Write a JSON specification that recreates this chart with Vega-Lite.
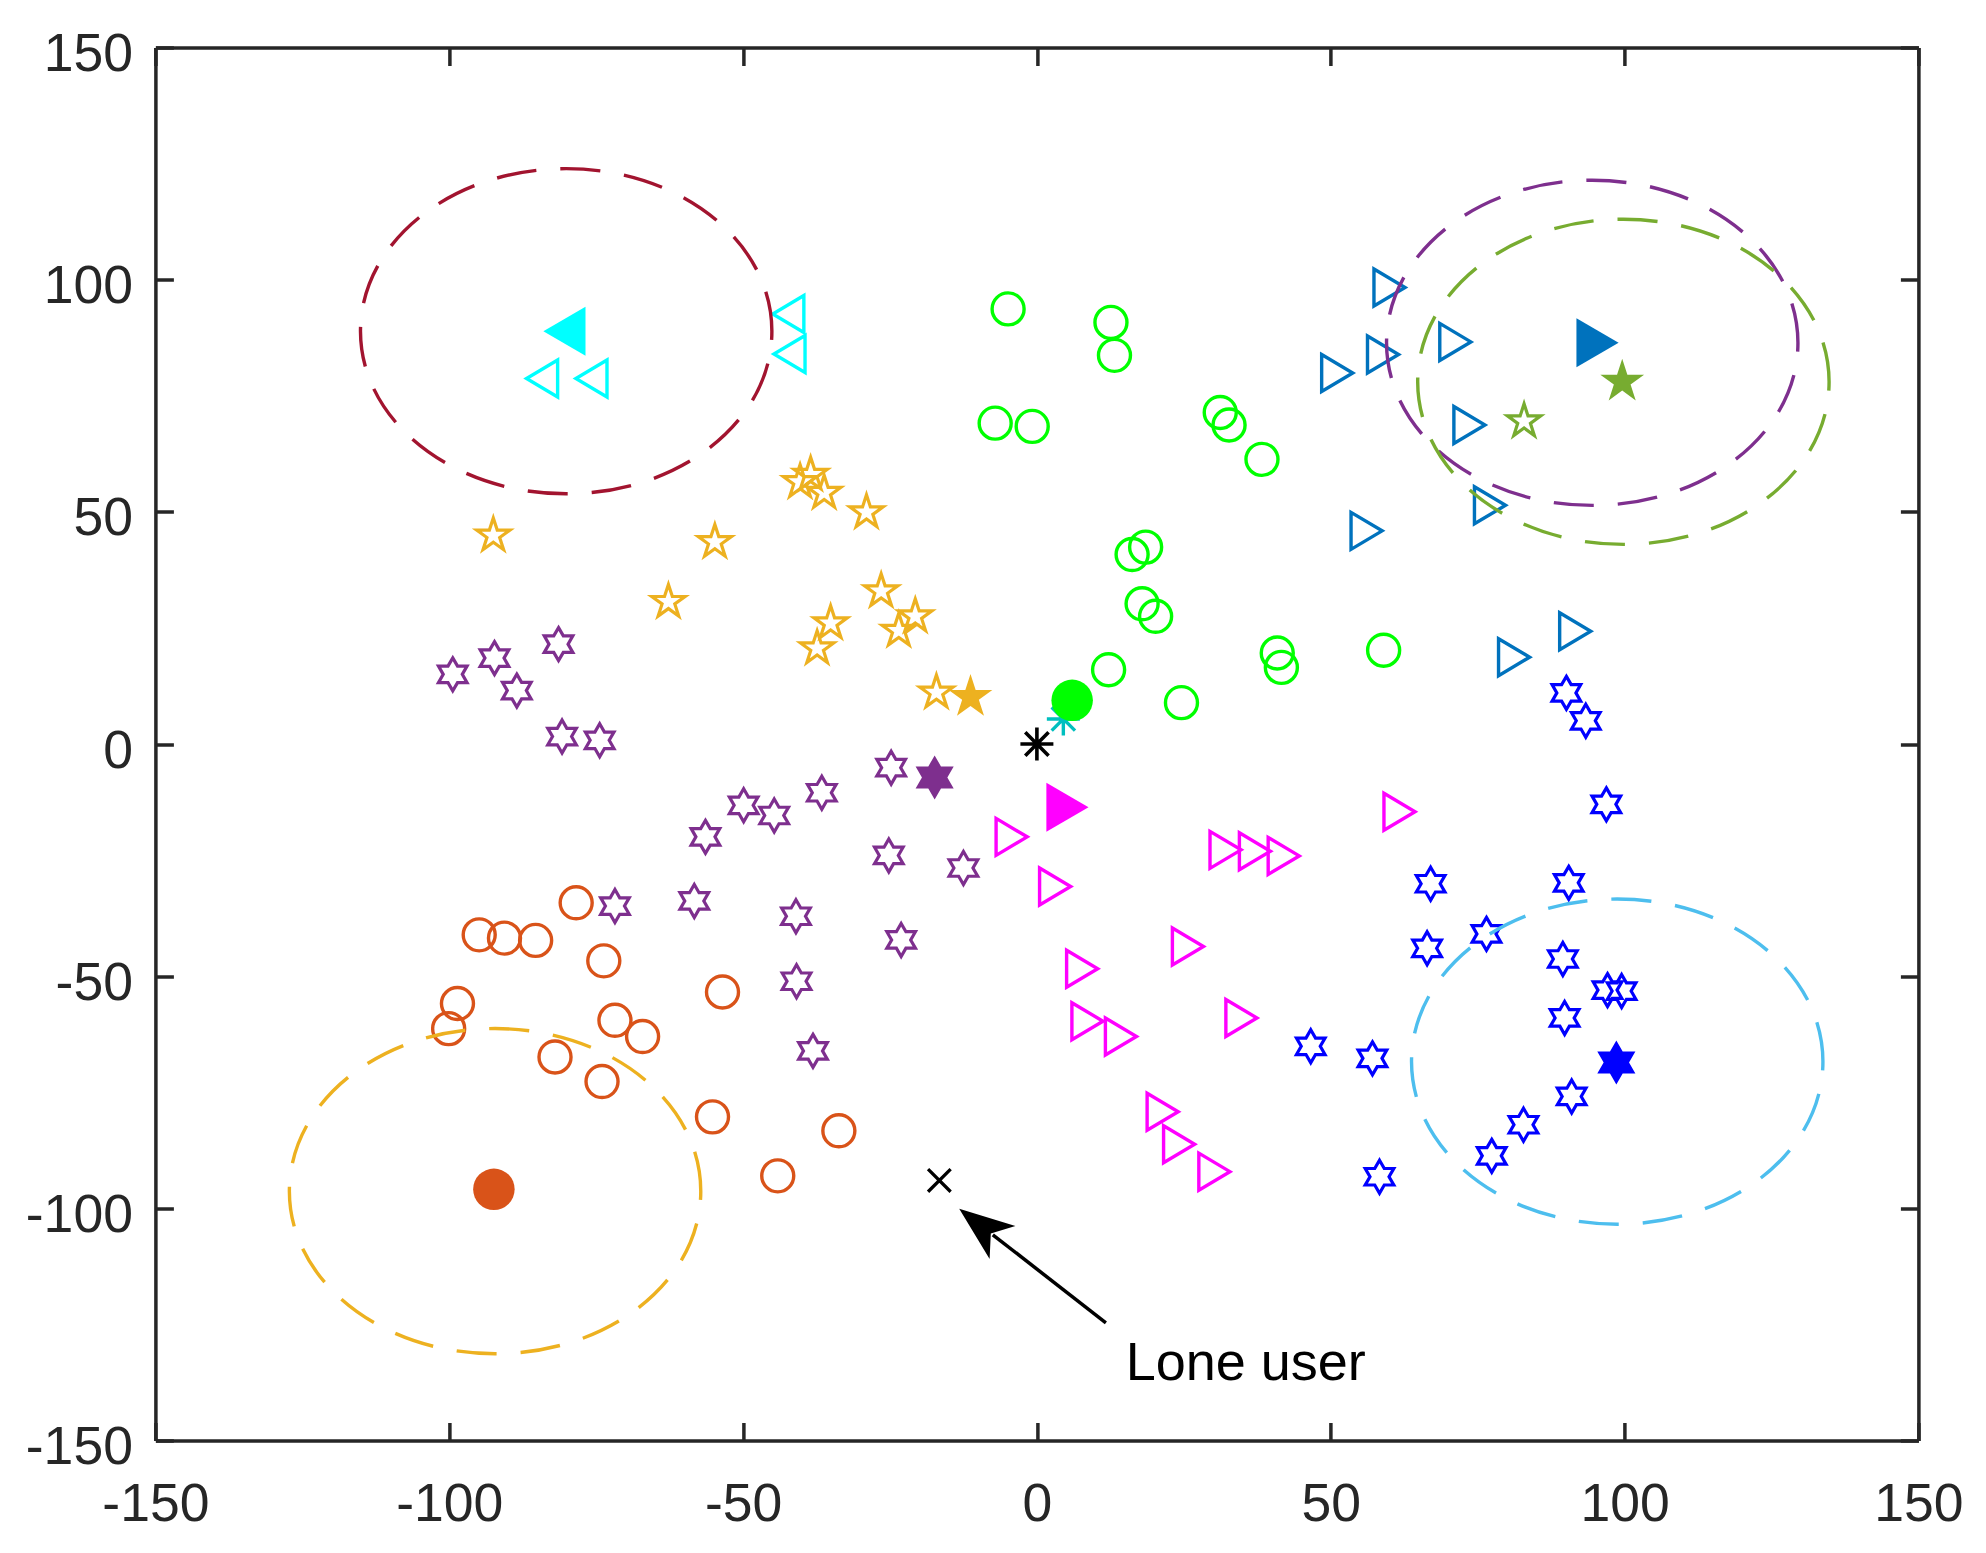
{
  "$schema": "https://vega.github.io/schema/vega-lite/v6.json",
  "width": 1763,
  "height": 1393,
  "autosize": {"type": "none"},
  "padding": {"left": 155.4, "top": 47.5, "right": 67.6, "bottom": 112.5},
  "background": "white",
  "config": {
    "view": {"stroke": null},
    "axis": {
      "domainColor": "#262626", "domainWidth": 3.5,
      "tickColor": "#262626", "tickWidth": 3.5, "tickSize": -18,
      "labelColor": "#262626", "labelFont": "Liberation Sans", "labelFontSize": 53.5,
      "grid": false, "title": null, "labelFlush": false, "labelOverlap": false
    }
  },
  "datasets": {
    "users": [
      {"x": -84.2, "y": 78.7, "c": "c1", "m": "tl"},
      {"x": -75.8, "y": 78.7, "c": "c1", "m": "tl"},
      {"x": -42.3, "y": 92.6, "c": "c1", "m": "tl"},
      {"x": -42.1, "y": 84.0, "c": "c1", "m": "tl"},
      {"x": -4.9, "y": 93.7, "c": "c2", "m": "o"},
      {"x": 12.6, "y": 90.8, "c": "c2", "m": "o"},
      {"x": 13.2, "y": 83.7, "c": "c2", "m": "o"},
      {"x": -7.1, "y": 69.1, "c": "c2", "m": "o"},
      {"x": -0.8, "y": 68.4, "c": "c2", "m": "o"},
      {"x": 31.2, "y": 71.4, "c": "c2", "m": "o"},
      {"x": 32.7, "y": 68.7, "c": "c2", "m": "o"},
      {"x": 38.3, "y": 61.3, "c": "c2", "m": "o"},
      {"x": 16.2, "y": 40.8, "c": "c2", "m": "o"},
      {"x": 18.5, "y": 42.4, "c": "c2", "m": "o"},
      {"x": 17.9, "y": 30.2, "c": "c2", "m": "o"},
      {"x": 20.2, "y": 27.5, "c": "c2", "m": "o"},
      {"x": 12.2, "y": 16.0, "c": "c2", "m": "o"},
      {"x": 24.6, "y": 8.9, "c": "c2", "m": "o"},
      {"x": 40.9, "y": 19.6, "c": "c2", "m": "o"},
      {"x": 41.6, "y": 16.5, "c": "c2", "m": "o"},
      {"x": 59.0, "y": 20.2, "c": "c2", "m": "o"},
      {"x": -92.5, "y": 44.9, "c": "c3", "m": "p5"},
      {"x": -54.8, "y": 43.5, "c": "c3", "m": "p5"},
      {"x": -62.7, "y": 30.6, "c": "c3", "m": "p5"},
      {"x": -40.3, "y": 56.4, "c": "c3", "m": "p5"},
      {"x": -38.5, "y": 58.0, "c": "c3", "m": "p5"},
      {"x": -36.2, "y": 54.1, "c": "c3", "m": "p5"},
      {"x": -29.0, "y": 49.9, "c": "c3", "m": "p5"},
      {"x": -26.5, "y": 32.9, "c": "c3", "m": "p5"},
      {"x": -35.1, "y": 26.0, "c": "c3", "m": "p5"},
      {"x": -37.4, "y": 20.6, "c": "c3", "m": "p5"},
      {"x": -20.7, "y": 27.5, "c": "c3", "m": "p5"},
      {"x": -23.5, "y": 24.4, "c": "c3", "m": "p5"},
      {"x": -17.1, "y": 11.1, "c": "c3", "m": "p5"},
      {"x": -99.4, "y": 15.0, "c": "c4", "m": "p6"},
      {"x": -92.3, "y": 18.5, "c": "c4", "m": "p6"},
      {"x": -88.5, "y": 11.5, "c": "c4", "m": "p6"},
      {"x": -81.4, "y": 21.5, "c": "c4", "m": "p6"},
      {"x": -80.8, "y": 1.6, "c": "c4", "m": "p6"},
      {"x": -74.4, "y": 0.8, "c": "c4", "m": "p6"},
      {"x": -71.8, "y": -34.9, "c": "c4", "m": "p6"},
      {"x": -24.8, "y": -5.1, "c": "c4", "m": "p6"},
      {"x": -36.6, "y": -10.5, "c": "c4", "m": "p6"},
      {"x": -49.9, "y": -13.2, "c": "c4", "m": "p6"},
      {"x": -44.7, "y": -15.4, "c": "c4", "m": "p6"},
      {"x": -56.4, "y": -20.0, "c": "c4", "m": "p6"},
      {"x": -25.2, "y": -24.0, "c": "c4", "m": "p6"},
      {"x": -12.5, "y": -26.7, "c": "c4", "m": "p6"},
      {"x": -58.3, "y": -33.8, "c": "c4", "m": "p6"},
      {"x": -41.0, "y": -37.1, "c": "c4", "m": "p6"},
      {"x": -23.1, "y": -42.2, "c": "c4", "m": "p6"},
      {"x": -40.9, "y": -51.1, "c": "c4", "m": "p6"},
      {"x": -38.1, "y": -66.1, "c": "c4", "m": "p6"},
      {"x": -78.4, "y": -34.2, "c": "c5", "m": "o"},
      {"x": -94.9, "y": -41.1, "c": "c5", "m": "o"},
      {"x": -90.6, "y": -41.8, "c": "c5", "m": "o"},
      {"x": -85.3, "y": -42.3, "c": "c5", "m": "o"},
      {"x": -73.7, "y": -46.7, "c": "c5", "m": "o"},
      {"x": -98.6, "y": -55.9, "c": "c5", "m": "o"},
      {"x": -100.1, "y": -61.3, "c": "c5", "m": "o"},
      {"x": -71.8, "y": -59.5, "c": "c5", "m": "o"},
      {"x": -67.1, "y": -63.0, "c": "c5", "m": "o"},
      {"x": -82.0, "y": -67.4, "c": "c5", "m": "o"},
      {"x": -74.0, "y": -72.7, "c": "c5", "m": "o"},
      {"x": -53.5, "y": -53.4, "c": "c5", "m": "o"},
      {"x": -55.2, "y": -80.3, "c": "c5", "m": "o"},
      {"x": -33.7, "y": -83.3, "c": "c5", "m": "o"},
      {"x": -44.1, "y": -93.0, "c": "c5", "m": "o"},
      {"x": -4.3, "y": -20.0, "c": "c6", "m": "tr"},
      {"x": 3.1, "y": -30.7, "c": "c6", "m": "tr"},
      {"x": 32.1, "y": -22.8, "c": "c6", "m": "tr"},
      {"x": 37.1, "y": -23.1, "c": "c6", "m": "tr"},
      {"x": 42.0, "y": -24.1, "c": "c6", "m": "tr"},
      {"x": 7.7, "y": -48.4, "c": "c6", "m": "tr"},
      {"x": 25.7, "y": -43.6, "c": "c6", "m": "tr"},
      {"x": 8.6, "y": -59.7, "c": "c6", "m": "tr"},
      {"x": 14.3, "y": -63.0, "c": "c6", "m": "tr"},
      {"x": 34.8, "y": -59.0, "c": "c6", "m": "tr"},
      {"x": 21.4, "y": -79.2, "c": "c6", "m": "tr"},
      {"x": 24.2, "y": -86.2, "c": "c6", "m": "tr"},
      {"x": 30.2, "y": -92.1, "c": "c6", "m": "tr"},
      {"x": 61.7, "y": -14.6, "c": "c6", "m": "tr"},
      {"x": 60.0, "y": 98.3, "c": "c7", "m": "tr"},
      {"x": 71.2, "y": 86.6, "c": "c7", "m": "tr"},
      {"x": 58.9, "y": 83.9, "c": "c7", "m": "tr"},
      {"x": 51.1, "y": 79.9, "c": "c7", "m": "tr"},
      {"x": 73.6, "y": 68.7, "c": "c7", "m": "tr"},
      {"x": 77.1, "y": 51.4, "c": "c7", "m": "tr"},
      {"x": 56.1, "y": 45.9, "c": "c7", "m": "tr"},
      {"x": 91.6, "y": 24.3, "c": "c7", "m": "tr"},
      {"x": 81.2, "y": 18.7, "c": "c7", "m": "tr"},
      {"x": 82.9, "y": 69.5, "c": "c8", "m": "p5"},
      {"x": 90.1, "y": 11.0, "c": "c9", "m": "p6"},
      {"x": 93.4, "y": 5.0, "c": "c9", "m": "p6"},
      {"x": 96.9, "y": -13.0, "c": "c9", "m": "p6"},
      {"x": 67.0, "y": -30.1, "c": "c9", "m": "p6"},
      {"x": 90.5, "y": -29.9, "c": "c9", "m": "p6"},
      {"x": 76.5, "y": -40.9, "c": "c9", "m": "p6"},
      {"x": 66.4, "y": -44.0, "c": "c9", "m": "p6"},
      {"x": 89.5, "y": -46.3, "c": "c9", "m": "p6"},
      {"x": 97.1, "y": -53.0, "c": "c9", "m": "p6"},
      {"x": 99.5, "y": -53.2, "c": "c9", "m": "p6"},
      {"x": 89.8, "y": -59.0, "c": "c9", "m": "p6"},
      {"x": 46.6, "y": -65.1, "c": "c9", "m": "p6"},
      {"x": 57.1, "y": -67.7, "c": "c9", "m": "p6"},
      {"x": 91.0, "y": -75.9, "c": "c9", "m": "p6"},
      {"x": 82.8, "y": -82.0, "c": "c9", "m": "p6"},
      {"x": 77.4, "y": -88.7, "c": "c9", "m": "p6"},
      {"x": 58.3, "y": -93.2, "c": "c9", "m": "p6"}
    ],
    "heads": [
      {"x": -80.4, "y": 88.9, "c": "c1", "m": "tl"},
      {"x": 6.0, "y": 9.4, "c": "c2", "m": "o"},
      {"x": -11.3, "y": 10.1, "c": "c3", "m": "p5"},
      {"x": -17.4, "y": -7.2, "c": "c4", "m": "p6"},
      {"x": -92.4, "y": -95.9, "c": "c5", "m": "o"},
      {"x": 5.2, "y": -13.6, "c": "c6", "m": "tr"},
      {"x": 95.4, "y": 86.4, "c": "c7", "m": "tr"},
      {"x": 99.6, "y": 78.0, "c": "c8", "m": "p5"},
      {"x": 98.6, "y": -68.6, "c": "c9", "m": "p6"}
    ],
    "stations": [
      {"x": 4.5, "y": 5.4, "c": "t"},
      {"x": 0.0, "y": 0.0, "c": "k"}
    ],
    "lone": [
      {"x": -16.6, "y": -94.0, "c": "k"}
    ],
    "rings": [
      {"x": -80.1, "y": 88.9, "c": "r1"},
      {"x": 94.5, "y": 86.4, "c": "c4"},
      {"x": 99.8, "y": 78.0, "c": "c8"},
      {"x": -92.2, "y": -96.3, "c": "c3"},
      {"x": 98.75, "y": -68.4, "c": "r5"}
    ],
    "arrow": [
      {"x": 11.74, "y": -124.65, "x2": -7.5, "y2": -105.7, "tx": -13.22, "ty": -100.1}
    ],
    "label": [
      {"x": 15.1, "y": -136.9, "t": "Lone user"}
    ]
  },
  "layer": [
    {
      "data": {"name": "users"},
      "transform": [{"filter": "datum.m === 'o'"}],
      "mark": {"type": "point", "shape": "circle", "filled": false, "size": 1024, "strokeWidth": 3.4, "opacity": 1},
      "encoding": {
        "x": {"field": "x", "type": "quantitative", "scale": {"domain": [-150, 150], "nice": false, "zero": false},
          "axis": {"orient": "bottom", "values": [-150, -100, -50, 0, 50, 100, 150], "labelPadding": 56, "labelBaseline": "top",
            "labelExpr": "(datum.value < 0 ? '-' : '') + abs(datum.value)"}},
        "y": {"field": "y", "type": "quantitative", "scale": {"domain": [-150, 150], "nice": false, "zero": false},
          "axis": {"orient": "left", "values": [-150, -100, -50, 0, 50, 100, 150], "labelPadding": 41, "labelOffset": 7, "labelAlign": "right", "labelBaseline": "middle",
            "labelExpr": "(datum.value < 0 ? '-' : '') + abs(datum.value)"}},
        "color": {"field": "c", "type": "nominal", "legend": null,
          "scale": {"domain": ["c1","c2","c3","c4","c5","c6","c7","c8","c9","r1","r5","k","t"],
                    "range": ["#00FFFF","#00FF00","#EDB120","#7E2F8E","#D95319","#FF00FF","#0072BD","#77AC30","#0000FF","#A2142F","#4DBEEE","#000000","#00BFBF"]}}
      }
    },
    {
      "data": {"name": "users"},
      "transform": [{"filter": "datum.m === 'tr'"}],
      "mark": {"type": "point", "shape": "M -0.84,-1 L 0.84,0 L -0.84,1 Z", "filled": false, "size": 1369, "strokeWidth": 3.4, "opacity": 1},
      "encoding": {
        "x": {"field": "x", "type": "quantitative", "scale": {"domain": [-150, 150], "nice": false, "zero": false},
          "axis": {"orient": "top", "values": [-150, -100, -50, 0, 50, 100, 150], "labels": false}},
        "y": {"field": "y", "type": "quantitative", "scale": {"domain": [-150, 150], "nice": false, "zero": false},
          "axis": {"orient": "right", "values": [-150, -100, -50, 0, 50, 100, 150], "labels": false}},
        "color": {"field": "c", "type": "nominal", "legend": null}
      }
    },
    {
      "data": {"name": "users"},
      "transform": [{"filter": "datum.m === 'tl'"}],
      "mark": {"type": "point", "shape": "M 0.84,-1 L -0.84,0 L 0.84,1 Z", "filled": false, "size": 1369, "strokeWidth": 3.4, "opacity": 1},
      "encoding": {
        "x": {"field": "x", "type": "quantitative", "axis": null},
        "y": {"field": "y", "type": "quantitative", "axis": null},
        "color": {"field": "c", "type": "nominal", "legend": null}
      }
    },
    {
      "data": {"name": "users"},
      "transform": [{"filter": "datum.m === 'p5'"}],
      "mark": {"type": "point", "shape": "M 0,-1 L 0.2245,-0.309 L 0.9511,-0.309 L 0.3633,0.118 L 0.5878,0.809 L 0,0.382 L -0.5878,0.809 L -0.3633,0.118 L -0.9511,-0.309 L -0.2245,-0.309 Z", "filled": false, "size": 1225, "strokeWidth": 3.2, "opacity": 1},
      "encoding": {
        "x": {"field": "x", "type": "quantitative", "axis": null},
        "y": {"field": "y", "type": "quantitative", "axis": null},
        "color": {"field": "c", "type": "nominal", "legend": null}
      }
    },
    {
      "data": {"name": "users"},
      "transform": [{"filter": "datum.m === 'p6'"}],
      "mark": {"type": "point", "shape": "M 0,-1 L 0.2887,-0.5 L 0.866,-0.5 L 0.5774,0 L 0.866,0.5 L 0.2887,0.5 L 0,1 L -0.2887,0.5 L -0.866,0.5 L -0.5774,0 L -0.866,-0.5 L -0.2887,-0.5 Z", "filled": false, "size": 1089, "strokeWidth": 3.2, "opacity": 1},
      "encoding": {
        "x": {"field": "x", "type": "quantitative", "axis": null},
        "y": {"field": "y", "type": "quantitative", "axis": null},
        "color": {"field": "c", "type": "nominal", "legend": null}
      }
    },
    {
      "data": {"name": "stations"},
      "transform": [{"filter": "datum.c === 't'"}],
      "mark": {"type": "point", "shape": "M -1,0 L 1,0 M 0,-1 L 0,1 M -0.707,-0.707 L 0.707,0.707 M -0.707,0.707 L 0.707,-0.707", "filled": false, "size": 1089, "strokeWidth": 3.4, "opacity": 1},
      "encoding": {
        "x": {"field": "x", "type": "quantitative", "axis": null},
        "y": {"field": "y", "type": "quantitative", "axis": null},
        "color": {"field": "c", "type": "nominal", "legend": null}
      }
    },
    {
      "data": {"name": "heads"},
      "transform": [{"filter": "datum.m === 'o'"}],
      "mark": {"type": "point", "shape": "circle", "filled": true, "size": 1722, "strokeWidth": 0, "opacity": 1},
      "encoding": {
        "x": {"field": "x", "type": "quantitative", "axis": null},
        "y": {"field": "y", "type": "quantitative", "axis": null},
        "color": {"field": "c", "type": "nominal", "legend": null}
      }
    },
    {
      "data": {"name": "heads"},
      "transform": [{"filter": "datum.m === 'tr'"}],
      "mark": {"type": "point", "shape": "M -0.86,-1 L 0.86,0 L -0.86,1 Z", "filled": true, "size": 2401, "strokeWidth": 0, "opacity": 1},
      "encoding": {
        "x": {"field": "x", "type": "quantitative", "axis": null},
        "y": {"field": "y", "type": "quantitative", "axis": null},
        "color": {"field": "c", "type": "nominal", "legend": null}
      }
    },
    {
      "data": {"name": "heads"},
      "transform": [{"filter": "datum.m === 'tl'"}],
      "mark": {"type": "point", "shape": "M 0.86,-1 L -0.86,0 L 0.86,1 Z", "filled": true, "size": 2401, "strokeWidth": 0, "opacity": 1},
      "encoding": {
        "x": {"field": "x", "type": "quantitative", "axis": null},
        "y": {"field": "y", "type": "quantitative", "axis": null},
        "color": {"field": "c", "type": "nominal", "legend": null}
      }
    },
    {
      "data": {"name": "heads"},
      "transform": [{"filter": "datum.m === 'p5'"}],
      "mark": {"type": "point", "shape": "M 0,-1 L 0.2245,-0.309 L 0.9511,-0.309 L 0.3633,0.118 L 0.5878,0.809 L 0,0.382 L -0.5878,0.809 L -0.3633,0.118 L -0.9511,-0.309 L -0.2245,-0.309 Z", "filled": true, "size": 2116, "strokeWidth": 0, "opacity": 1},
      "encoding": {
        "x": {"field": "x", "type": "quantitative", "axis": null},
        "y": {"field": "y", "type": "quantitative", "axis": null},
        "color": {"field": "c", "type": "nominal", "legend": null}
      }
    },
    {
      "data": {"name": "heads"},
      "transform": [{"filter": "datum.m === 'p6'"}],
      "mark": {"type": "point", "shape": "M 0,-1 L 0.2887,-0.5 L 0.866,-0.5 L 0.5774,0 L 0.866,0.5 L 0.2887,0.5 L 0,1 L -0.2887,0.5 L -0.866,0.5 L -0.5774,0 L -0.866,-0.5 L -0.2887,-0.5 Z", "filled": true, "size": 1936, "strokeWidth": 0, "opacity": 1},
      "encoding": {
        "x": {"field": "x", "type": "quantitative", "axis": null},
        "y": {"field": "y", "type": "quantitative", "axis": null},
        "color": {"field": "c", "type": "nominal", "legend": null}
      }
    },
    {
      "data": {"name": "stations"},
      "transform": [{"filter": "datum.c === 'k'"}],
      "mark": {"type": "point", "shape": "M -1,0 L 1,0 M 0,-1 L 0,1 M -0.707,-0.707 L 0.707,0.707 M -0.707,0.707 L 0.707,-0.707", "filled": false, "size": 1089, "strokeWidth": 3.6, "opacity": 1},
      "encoding": {
        "x": {"field": "x", "type": "quantitative", "axis": null},
        "y": {"field": "y", "type": "quantitative", "axis": null},
        "color": {"field": "c", "type": "nominal", "legend": null}
      }
    },
    {
      "data": {"name": "lone"},
      "mark": {"type": "point", "shape": "M -1,-1 L 1,1 M -1,1 L 1,-1", "filled": false, "size": 511, "strokeWidth": 3.3, "opacity": 1},
      "encoding": {
        "x": {"field": "x", "type": "quantitative", "axis": null},
        "y": {"field": "y", "type": "quantitative", "axis": null},
        "color": {"field": "c", "type": "nominal", "legend": null}
      }
    },
    {
      "data": {"name": "rings"},
      "mark": {"type": "point", "shape": "M 1,0 C 1,-0.4365 0.5523,-0.7904 0,-0.7904 C -0.5523,-0.7904 -1,-0.4365 -1,0 C -1,0.4365 -0.5523,0.7904 0,0.7904 C 0.5523,0.7904 1,0.4365 1,0", "filled": false, "size": 169250, "strokeWidth": 3.4, "strokeDash": [40, 24], "opacity": 1},
      "encoding": {
        "x": {"field": "x", "type": "quantitative", "axis": null},
        "y": {"field": "y", "type": "quantitative", "axis": null},
        "color": {"field": "c", "type": "nominal", "legend": null}
      }
    },
    {
      "data": {"name": "arrow"},
      "mark": {"type": "rule", "color": "#000000", "strokeWidth": 3.5},
      "encoding": {
        "x": {"field": "x", "type": "quantitative", "axis": null},
        "y": {"field": "y", "type": "quantitative", "axis": null},
        "x2": {"field": "x2"},
        "y2": {"field": "y2"}
      }
    },
    {
      "data": {"name": "arrow"},
      "mark": {"type": "point", "shape": "M 0,0 L 0.75,1.96 L 0,1.43 L -0.75,1.96 Z", "filled": true, "color": "#000000", "size": 3136, "strokeWidth": 0, "opacity": 1, "angle": 307.9},
      "encoding": {
        "x": {"field": "tx", "type": "quantitative", "axis": null},
        "y": {"field": "ty", "type": "quantitative", "axis": null}
      }
    },
    {
      "data": {"name": "label"},
      "mark": {"type": "text", "align": "left", "baseline": "alphabetic", "font": "Liberation Sans", "fontSize": 54, "color": "#000000"},
      "encoding": {
        "x": {"field": "x", "type": "quantitative", "axis": null},
        "y": {"field": "y", "type": "quantitative", "axis": null},
        "text": {"field": "t"}
      }
    }
  ]
}
